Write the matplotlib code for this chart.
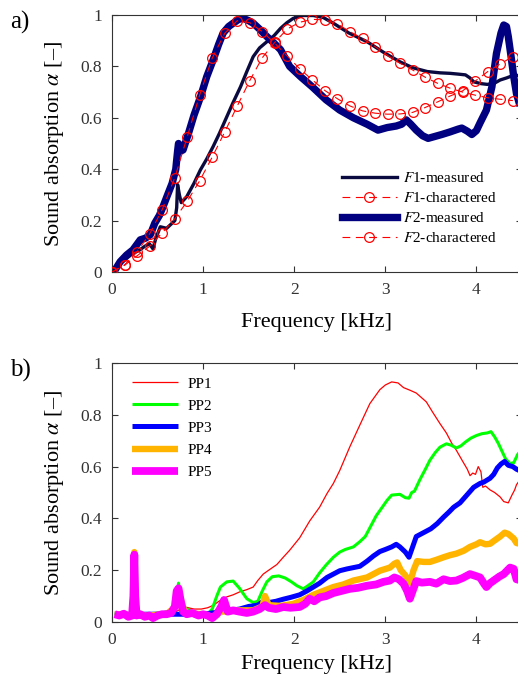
import numpy as np
import matplotlib
matplotlib.use("Agg")
import matplotlib.pyplot as plt

plt.rcParams['font.family'] = ['Liberation Serif', 'DejaVu Serif']
plt.rcParams['mathtext.fontset'] = 'stix'

# --- a) measured / charactered absorption (kHz, alpha) ---
f1_meas = [(0.02, 0.0), (0.08, 0.03), (0.15, 0.05), (0.22, 0.07), (0.3, 0.085), (0.36, 0.1),
           (0.41, 0.11), (0.45, 0.09), (0.48, 0.13), (0.53, 0.176), (0.6, 0.17), (0.66, 0.19),
           (0.69, 0.2), (0.71, 0.25), (0.72, 0.34), (0.74, 0.3), (0.76, 0.27), (0.82, 0.293),
           (0.9, 0.345), (0.97, 0.397), (1.04, 0.44), (1.11, 0.488), (1.18, 0.54), (1.26, 0.604),
           (1.33, 0.66), (1.41, 0.72), (1.48, 0.78), (1.55, 0.838), (1.62, 0.872), (1.7, 0.896),
           (1.78, 0.92), (1.85, 0.948), (1.92, 0.97), (1.99, 0.987), (2.1, 0.998), (2.21, 0.998),
           (2.32, 0.99), (2.43, 0.968), (2.6, 0.93), (2.8, 0.896), (2.98, 0.855), (3.16, 0.818),
           (3.3, 0.795), (3.46, 0.78), (3.6, 0.775), (3.71, 0.773), (3.8, 0.77), (3.88, 0.767),
           (3.93, 0.755), (3.97, 0.74), (4.05, 0.733), (4.12, 0.73), (4.2, 0.735), (4.26, 0.747),
           (4.33, 0.755), (4.39, 0.763), (4.45, 0.765), (4.5, 0.765)]

f2_meas = [(0.02, 0.0), (0.09, 0.04), (0.16, 0.066), (0.23, 0.086), (0.31, 0.125), (0.37, 0.132),
           (0.42, 0.145), (0.47, 0.19), (0.52, 0.22), (0.56, 0.254), (0.61, 0.3), (0.66, 0.345),
           (0.7, 0.4), (0.72, 0.47), (0.73, 0.5), (0.75, 0.47), (0.78, 0.475), (0.84, 0.54),
           (0.9, 0.61), (0.97, 0.68), (1.04, 0.76), (1.11, 0.825), (1.17, 0.885), (1.22, 0.93),
           (1.28, 0.955), (1.33, 0.968), (1.39, 0.983), (1.44, 0.987), (1.5, 0.978), (1.55, 0.968),
           (1.62, 0.945), (1.7, 0.916), (1.78, 0.89), (1.85, 0.865), (1.95, 0.8), (2.07, 0.76),
           (2.2, 0.72), (2.35, 0.67), (2.5, 0.63), (2.65, 0.6), (2.8, 0.575), (2.92, 0.552),
           (3.02, 0.562), (3.12, 0.568), (3.18, 0.575), (3.23, 0.592), (3.28, 0.575), (3.34, 0.552),
           (3.41, 0.53), (3.47, 0.52), (3.53, 0.526), (3.62, 0.535), (3.71, 0.545), (3.8, 0.556),
           (3.84, 0.56), (3.9, 0.548), (3.95, 0.535), (4.0, 0.55), (4.04, 0.58), (4.11, 0.63),
           (4.17, 0.72), (4.22, 0.85), (4.27, 0.93), (4.3, 0.961), (4.33, 0.955), (4.35, 0.916),
           (4.38, 0.84), (4.41, 0.76), (4.44, 0.694), (4.5, 0.62)]

f_char = [0.0, 0.1375, 0.275, 0.4125, 0.55, 0.6875, 0.825, 0.9625, 1.1, 1.2375, 1.375, 1.5125,
          1.65, 1.7875, 1.925, 2.0625, 2.2, 2.3375, 2.475, 2.6125, 2.75, 2.8875, 3.025, 3.1625,
          3.3, 3.4375, 3.575, 3.7125, 3.85, 3.9875, 4.125, 4.2625, 4.4]
f1_char = [0.0, 0.026, 0.063, 0.1, 0.152, 0.206, 0.275, 0.355, 0.447, 0.545, 0.646, 0.745,
           0.834, 0.894, 0.946, 0.972, 0.983, 0.981, 0.965, 0.935, 0.909, 0.877, 0.842, 0.812,
           0.786, 0.758, 0.734, 0.715, 0.7, 0.688, 0.678, 0.672, 0.667]
f2_char = [0.0, 0.028, 0.078, 0.148, 0.242, 0.365, 0.525, 0.689, 0.832, 0.929, 0.978, 0.97,
           0.935, 0.89, 0.84, 0.79, 0.747, 0.706, 0.674, 0.646, 0.627, 0.618, 0.614, 0.615,
           0.621, 0.64, 0.662, 0.685, 0.705, 0.743, 0.78, 0.81, 0.838]

# --- b) perforated panels PP1..PP5 ---
pp1 = [(0.03, 0.03), (0.2, 0.03), (0.5, 0.03), (0.7, 0.04), (0.8, 0.058), (0.9, 0.05), (0.98, 0.05),
       (1.05, 0.055), (1.11, 0.064), (1.19, 0.084), (1.26, 0.097), (1.33, 0.105), (1.4, 0.116),
       (1.48, 0.125), (1.55, 0.135), (1.6, 0.16), (1.66, 0.185), (1.72, 0.2), (1.81, 0.222),
       (1.88, 0.25), (1.95, 0.277), (2.06, 0.325), (2.17, 0.39), (2.28, 0.444), (2.36, 0.496),
       (2.43, 0.535), (2.5, 0.585), (2.61, 0.676), (2.72, 0.76), (2.83, 0.843), (2.94, 0.897),
       (3.0, 0.915), (3.07, 0.927), (3.14, 0.923), (3.2, 0.905), (3.27, 0.895), (3.34, 0.884),
       (3.45, 0.85), (3.52, 0.81), (3.6, 0.766), (3.67, 0.73), (3.73, 0.69), (3.78, 0.663),
       (3.85, 0.62), (3.9, 0.59), (3.93, 0.565), (3.96, 0.575), (3.99, 0.57), (4.02, 0.6),
       (4.05, 0.58), (4.07, 0.52), (4.1, 0.525), (4.15, 0.51), (4.2, 0.5), (4.26, 0.483),
       (4.3, 0.465), (4.35, 0.46), (4.39, 0.49), (4.42, 0.51), (4.44, 0.53), (4.47, 0.545), (4.5, 0.55)]
pp2 = [(0.03, 0.03), (0.3, 0.03), (0.55, 0.035), (0.6, 0.04), (0.7, 0.05), (0.73, 0.15), (0.77, 0.06),
       (0.9, 0.035), (1.05, 0.03), (1.1, 0.05), (1.15, 0.1), (1.19, 0.135), (1.26, 0.155),
       (1.33, 0.158), (1.4, 0.13), (1.48, 0.09), (1.55, 0.075), (1.6, 0.08), (1.65, 0.12),
       (1.7, 0.155), (1.76, 0.175), (1.83, 0.178), (1.9, 0.17), (1.97, 0.155), (2.03, 0.14),
       (2.1, 0.128), (2.15, 0.14), (2.21, 0.155), (2.28, 0.19), (2.35, 0.22), (2.43, 0.25),
       (2.5, 0.27), (2.56, 0.28), (2.65, 0.29), (2.72, 0.31), (2.78, 0.33), (2.84, 0.37),
       (2.9, 0.41), (2.96, 0.44), (3.02, 0.47), (3.07, 0.49), (3.16, 0.493), (3.22, 0.48),
       (3.26, 0.478), (3.29, 0.5), (3.32, 0.505), (3.38, 0.55), (3.44, 0.59), (3.49, 0.625),
       (3.55, 0.655), (3.6, 0.675), (3.67, 0.688), (3.72, 0.683), (3.78, 0.672), (3.83, 0.68),
       (3.88, 0.695), (3.94, 0.71), (4.0, 0.72), (4.06, 0.727), (4.12, 0.73), (4.16, 0.735),
       (4.2, 0.715), (4.24, 0.69), (4.28, 0.66), (4.32, 0.63), (4.37, 0.612), (4.41, 0.615),
       (4.45, 0.645), (4.5, 0.67)]
pp3 = [(0.03, 0.03), (0.5, 0.03), (1.0, 0.03), (1.2, 0.04), (1.4, 0.05), (1.5, 0.06), (1.6, 0.065),
       (1.68, 0.085), (1.72, 0.075), (1.8, 0.08), (1.88, 0.088), (1.96, 0.095), (2.06, 0.105),
       (2.14, 0.12), (2.21, 0.135), (2.28, 0.15), (2.36, 0.172), (2.43, 0.185), (2.5, 0.198),
       (2.58, 0.205), (2.65, 0.21), (2.72, 0.215), (2.8, 0.235), (2.87, 0.255), (2.94, 0.272),
       (3.0, 0.28), (3.07, 0.29), (3.12, 0.3), (3.16, 0.29), (3.22, 0.27), (3.26, 0.25),
       (3.3, 0.29), (3.34, 0.33), (3.42, 0.345), (3.5, 0.36), (3.57, 0.38), (3.64, 0.405),
       (3.7, 0.425), (3.75, 0.443), (3.82, 0.46), (3.86, 0.476), (3.92, 0.5), (3.97, 0.52),
       (4.04, 0.535), (4.08, 0.54), (4.15, 0.555), (4.19, 0.57), (4.23, 0.595), (4.27, 0.61),
       (4.31, 0.62), (4.35, 0.605), (4.4, 0.6), (4.44, 0.59), (4.5, 0.58)]
pp4 = [(0.03, 0.03), (0.13, 0.03), (0.22, 0.025), (0.235, 0.1), (0.245, 0.27), (0.255, 0.1),
       (0.27, 0.025), (0.4, 0.025), (0.6, 0.03), (0.7, 0.06), (0.73, 0.13), (0.76, 0.08),
       (0.8, 0.035), (1.0, 0.03), (1.1, 0.02), (1.2, 0.04), (1.4, 0.045), (1.55, 0.045),
       (1.65, 0.06), (1.68, 0.1), (1.72, 0.065), (1.85, 0.062), (1.99, 0.07), (2.1, 0.085),
       (2.21, 0.105), (2.32, 0.12), (2.43, 0.135), (2.54, 0.145), (2.65, 0.16), (2.8, 0.172),
       (2.94, 0.198), (3.05, 0.21), (3.1, 0.225), (3.13, 0.23), (3.17, 0.2), (3.22, 0.18),
       (3.27, 0.15), (3.31, 0.2), (3.35, 0.235), (3.42, 0.232), (3.49, 0.232), (3.56, 0.24),
       (3.64, 0.25), (3.71, 0.258), (3.78, 0.264), (3.86, 0.275), (3.93, 0.29), (4.0, 0.3),
       (4.04, 0.308), (4.1, 0.3), (4.15, 0.302), (4.2, 0.315), (4.26, 0.33), (4.31, 0.345),
       (4.35, 0.34), (4.41, 0.322), (4.44, 0.305), (4.5, 0.3)]
pp5 = [(0.03, 0.03), (0.08, 0.025), (0.13, 0.032), (0.18, 0.02), (0.22, 0.025), (0.235, 0.1),
       (0.245, 0.26), (0.255, 0.1), (0.27, 0.025), (0.31, 0.03), (0.36, 0.02), (0.41, 0.025),
       (0.45, 0.015), (0.5, 0.025), (0.55, 0.03), (0.6, 0.03), (0.65, 0.035), (0.69, 0.06),
       (0.71, 0.12), (0.73, 0.13), (0.75, 0.09), (0.78, 0.04), (0.82, 0.03), (0.88, 0.035),
       (0.95, 0.025), (1.0, 0.03), (1.05, 0.025), (1.1, 0.015), (1.15, 0.03), (1.2, 0.06),
       (1.23, 0.085), (1.27, 0.04), (1.33, 0.045), (1.4, 0.04), (1.48, 0.035), (1.55, 0.04),
       (1.62, 0.05), (1.68, 0.065), (1.72, 0.055), (1.8, 0.05), (1.88, 0.058), (1.96, 0.055),
       (2.06, 0.058), (2.12, 0.07), (2.17, 0.09), (2.22, 0.08), (2.28, 0.095), (2.35, 0.1),
       (2.43, 0.112), (2.52, 0.12), (2.61, 0.128), (2.7, 0.132), (2.8, 0.14), (2.9, 0.145),
       (2.98, 0.155), (3.05, 0.16), (3.1, 0.172), (3.15, 0.165), (3.2, 0.148), (3.24, 0.12),
       (3.27, 0.09), (3.3, 0.12), (3.34, 0.158), (3.4, 0.152), (3.49, 0.155), (3.56, 0.148),
       (3.64, 0.165), (3.71, 0.158), (3.78, 0.16), (3.85, 0.17), (3.93, 0.185), (3.99, 0.178),
       (4.04, 0.172), (4.08, 0.15), (4.11, 0.135), (4.15, 0.15), (4.19, 0.16), (4.25, 0.175),
       (4.3, 0.185), (4.37, 0.21), (4.41, 0.205), (4.44, 0.165), (4.5, 0.16)]

pp_series = [pp1, pp2, pp3, pp4, pp5]
pp_labels = ['PP1', 'PP2', 'PP3', 'PP4', 'PP5']
pp_colors = ['#ff0000', '#00ff00', '#0000ff', '#ffb400', '#ff00ff']
pp_widths = [0.9, 2.2, 3.6, 4.6, 5.6]

y_ticks = [0, 0.2, 0.4, 0.6, 0.8, 1]
y_ticklabels = ['0', '0.2', '0.4', '0.6', '0.8', '1']
x_ticks = [0, 1, 2, 3, 4]

W, H = 518, 678
fig = plt.figure(figsize=(W / 100, H / 100), dpi=100)
left = 112 / W
width = 4.5 * 91.1 / W
ax1 = fig.add_axes([left, 406 / H, width, 257 / H])
ax2 = fig.add_axes([left, 56 / H, width, 259 / H])

axis_grey = '#333333'


def style(ax, xlab_y):
    ax.set_xlim(0, 4.5)
    ax.set_ylim(0, 1)
    ax.set_xticks(x_ticks)
    ax.set_yticks(y_ticks)
    ax.set_yticklabels(y_ticklabels)
    ax.tick_params(direction='in', top=True, right=True, length=4, width=0.8,
                   labelsize=12.5, colors=axis_grey, pad=7)
    for s in ax.spines.values():
        s.set_color(axis_grey)
        s.set_linewidth(0.8)
    ax.set_xlabel('Frequency [kHz]', fontsize=16)
    ax.set_ylabel(r'Sound absorption $\alpha$ [–]', fontsize=16)
    ax.xaxis.set_label_coords(0.5, xlab_y)
    ax.yaxis.set_label_coords(-0.112, 0.5)


style(ax1, -0.16)
style(ax2, -0.128)

a = np.array(f1_meas).T
ax1.plot(a[0], a[1], color='#0a0a40', lw=2.4, label=r'$F$1-measured', zorder=2)
ax1.plot(f_char, f1_char, color='#ff0000', lw=0.8, ls=(0, (7, 5)), marker='o', ms=7,
         mfc='none', mec='#ff0000', mew=0.9, label=r'$F$1-charactered', zorder=3)
a = np.array(f2_meas).T
ax1.plot(a[0], a[1], color='#000080', lw=5.3, label=r'$F$2-measured', zorder=2)
ax1.plot(f_char, f2_char, color='#ff0000', lw=0.8, ls=(0, (7, 5)), marker='o', ms=7,
         mfc='none', mec='#ff0000', mew=0.9, label=r'$F$2-charactered', zorder=3)
ax1.legend(loc='upper left', bbox_to_anchor=(0.545, 0.415), frameon=False, fontsize=11,
           handlelength=3.6, handletextpad=0.45, labelspacing=0.38, borderaxespad=0)

for data, lab, c, lw in zip(pp_series, pp_labels, pp_colors, pp_widths):
    a = np.array(data).T
    ax2.plot(a[0], a[1], color=c, lw=lw, label=lab, solid_capstyle='butt')
ax2.legend(loc='upper left', bbox_to_anchor=(0.035, 0.97), frameon=False, fontsize=11,
           handlelength=3.0, handletextpad=0.6, labelspacing=0.55, borderaxespad=0)

fig.text(10 / W, 1 - 11 / H, 'a)', fontsize=18, va='top', ha='left')
fig.text(10 / W, 1 - 359 / H, 'b)', fontsize=18, va='top', ha='left')

fig.savefig('out.png', dpi=100)
